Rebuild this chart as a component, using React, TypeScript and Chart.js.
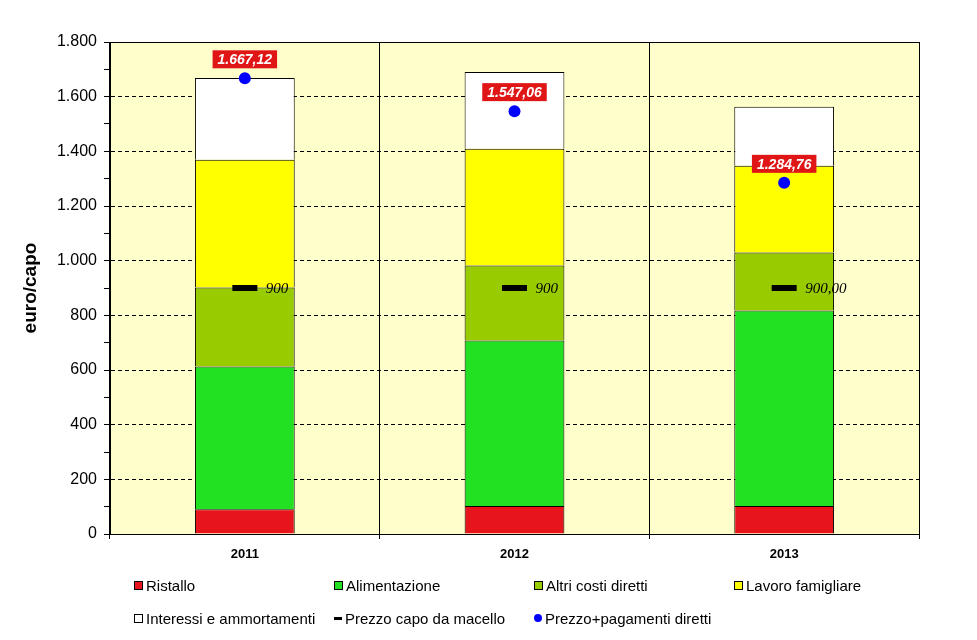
import React, { useEffect, useRef } from "react";
import { Chart, registerables } from "chart.js";

Chart.register(...registerables);

const years = ["2011", "2012", "2013"];
const ristallo = [91, 102, 102];
const alimentazione = [522, 606, 716];
const altriCosti = [289, 274, 212];
const lavoro = [467, 427, 317];
const interessi = [299, 281, 216];
const prezzoMacello = [900, 900, 900];
const prezzoMacelloLabels = ["900", "900", "900,00"];
const prezzoPagamenti = [1667.12, 1547.06, 1284.76];
const prezzoPagamentiLabels = ["1.667,12", "1.547,06", "1.284,76"];
const yTicks = [0, 200, 400, 600, 800, 1000, 1200, 1400, 1600, 1800];

const legendItems = [
  { label: "Ristallo", kind: "box", color: "#E8141B", x: 134, row: 0 },
  { label: "Alimentazione", kind: "box", color: "#22E022", x: 334, row: 0 },
  { label: "Altri costi diretti", kind: "box", color: "#99CC00", x: 534, row: 0 },
  { label: "Lavoro famigliare", kind: "box", color: "#FFFF00", x: 734, row: 0 },
  { label: "Interessi e ammortamenti", kind: "box", color: "#FFFFFF", x: 134, row: 1 },
  { label: "Prezzo capo da macello", kind: "dash", color: "#000000", x: 334, row: 1 },
  { label: "Prezzo+pagamenti diretti", kind: "dot", color: "#0000FF", x: 534, row: 1 },
];

const fmt = (v: number) => String(v).replace(/\B(?=(\d{3})+(?!\d))/g, ".");

const overlay = {
  id: "overlay",
  beforeDraw(chart: any) {
    const { ctx, chartArea: a } = chart;
    ctx.save();
    ctx.fillStyle = "#FFFFCC";
    ctx.fillRect(a.left, a.top, a.right - a.left, a.bottom - a.top);
    ctx.restore();
  },
  afterDraw(chart: any) {
    const { ctx, chartArea: a } = chart;
    ctx.save();
    ctx.strokeStyle = "#000";
    ctx.lineWidth = 1;
    ctx.strokeRect(a.left + 0.5, a.top + 0.5, a.right - a.left, a.bottom - a.top);
    const m1 = chart.getDatasetMeta(5);
    ctx.font = "italic 15px 'Liberation Serif', 'Times New Roman', serif";
    ctx.fillStyle = "#000";
    ctx.textBaseline = "middle";
    ctx.textAlign = "left";
    m1.data.forEach((p: any, i: number) => {
      ctx.fillText(prezzoMacelloLabels[i], p.x + 21, p.y + 1);
    });
    const m2 = chart.getDatasetMeta(6);
    ctx.font = "italic bold 14px 'Liberation Sans', Arial, sans-serif";
    ctx.textAlign = "center";
    m2.data.forEach((p: any, i: number) => {
      const t = prezzoPagamentiLabels[i];
      const w = ctx.measureText(t).width + 10;
      const h = 18;
      const cy = p.y - 19;
      ctx.fillStyle = "#E01515";
      ctx.fillRect(p.x - w / 2, cy - h / 2, w, h);
      ctx.fillStyle = "#FFFFFF";
      ctx.fillText(t, p.x, cy + 1);
    });
    ctx.restore();
  },
};

export default function App() {
  const ref = useRef<HTMLCanvasElement>(null);
  useEffect(() => {
    if (!ref.current) return;
    const bar = (label: string, data: number[], color: string) => ({
      type: "bar" as const,
      label,
      data,
      backgroundColor: color,
      borderColor: "#000",
      borderWidth: 1,
      stack: "costi",
      order: 1,
      barPercentage: 0.37,
      categoryPercentage: 1,
    });
    const chart = new Chart(ref.current, {
      type: "bar",
      data: {
        labels: years,
        datasets: [
          bar("Ristallo", ristallo, "#E8141B"),
          bar("Alimentazione", alimentazione, "#22E022"),
          bar("Altri costi diretti", altriCosti, "#99CC00"),
          bar("Lavoro famigliare", lavoro, "#FFFF00"),
          bar("Interessi e ammortamenti", interessi, "#FFFFFF"),
          {
            type: "line" as const,
            label: "Prezzo capo da macello",
            data: prezzoMacello,
            showLine: false,
            pointStyle: "line",
            pointRadius: 12.5,
            pointBorderWidth: 6,
            borderColor: "#000",
            backgroundColor: "#000",
            stack: "p1",
            order: 0,
          } as any,
          {
            type: "line" as const,
            label: "Prezzo+pagamenti diretti",
            data: prezzoPagamenti,
            showLine: false,
            pointStyle: "circle",
            pointRadius: 6,
            pointBorderWidth: 0,
            borderColor: "#0000FF",
            backgroundColor: "#0000FF",
            stack: "p2",
            order: 0,
          } as any,
        ],
      },
      options: {
        animation: false,
        responsive: false,
        maintainAspectRatio: false,
        layout: { padding: { left: 0, top: 42, right: 58, bottom: 66 } },
        plugins: { legend: { display: false }, tooltip: { enabled: false } },
        scales: {
          x: {
            stacked: true,
            afterFit: (s: any) => {
              s.height = 40;
            },
            grid: { offset: true, color: "#000", tickLength: 5, drawOnChartArea: true },
            border: { color: "#000" },
            ticks: {
              color: "#000",
              padding: 8,
              font: { family: "'Liberation Sans', Arial, sans-serif", size: 13, weight: "bold" },
            },
          },
          y: {
            stacked: true,
            min: 0,
            max: 1800,
            afterFit: (s: any) => {
              s.width = 110;
            },
            afterBuildTicks: (s: any) => {
              const t: any[] = [];
              for (let v = 0; v <= 1800; v += 100) t.push({ value: v });
              s.ticks = t;
            },
            grid: {
              color: (c: any) =>
                c.tick && yTicks.includes(c.tick.value) && c.tick.value !== 0 ? "#000" : "rgba(0,0,0,0)",
              tickColor: "#000",
              tickLength: 6,
            },
            border: { color: "#000", dash: [4, 3] },
            ticks: {
              autoSkip: false,
              color: "#000",
              padding: 7,
              font: { family: "'Liberation Sans', Arial, sans-serif", size: 16 },
              callback: (v: any) => (yTicks.includes(Number(v)) ? fmt(Number(v)) : ""),
            },
            title: {
              display: true,
              text: "euro/capo",
              color: "#000",
              padding: { top: 19, bottom: 0 },
              font: { family: "'Liberation Sans', Arial, sans-serif", size: 19, weight: "bold" },
            },
          },
        },
      },
      plugins: [overlay],
    });
    return () => chart.destroy();
  }, []);

  return (
    <div style={{ position: "absolute", left: 0, top: 0, width: 977, height: 640, background: "#fff" }}>
      <canvas ref={ref} width={977} height={640} style={{ position: "absolute", left: 0, top: 0 }} />
      {legendItems.map((it) => (
        <div
          key={it.label}
          style={{
            position: "absolute",
            left: it.x,
            top: it.row === 0 ? 576 : 609,
            height: 18,
            display: "flex",
            alignItems: "center",
            fontFamily: "'Liberation Sans', Arial, sans-serif",
            fontSize: 15,
            color: "#000",
            whiteSpace: "nowrap",
          }}
        >
          {it.kind === "box" && (
            <span
              style={{
                display: "inline-block",
                width: 7,
                height: 7,
                background: it.color,
                border: "1px solid #000",
                marginRight: 3,
              }}
            />
          )}
          {it.kind === "dash" && (
            <span style={{ display: "inline-block", width: 8, height: 3, background: "#000", marginRight: 3 }} />
          )}
          {it.kind === "dot" && (
            <span
              style={{
                display: "inline-block",
                width: 8,
                height: 8,
                borderRadius: 4,
                background: it.color,
                marginRight: 3,
              }}
            />
          )}
          <span>{it.label}</span>
        </div>
      ))}
    </div>
  );
}
